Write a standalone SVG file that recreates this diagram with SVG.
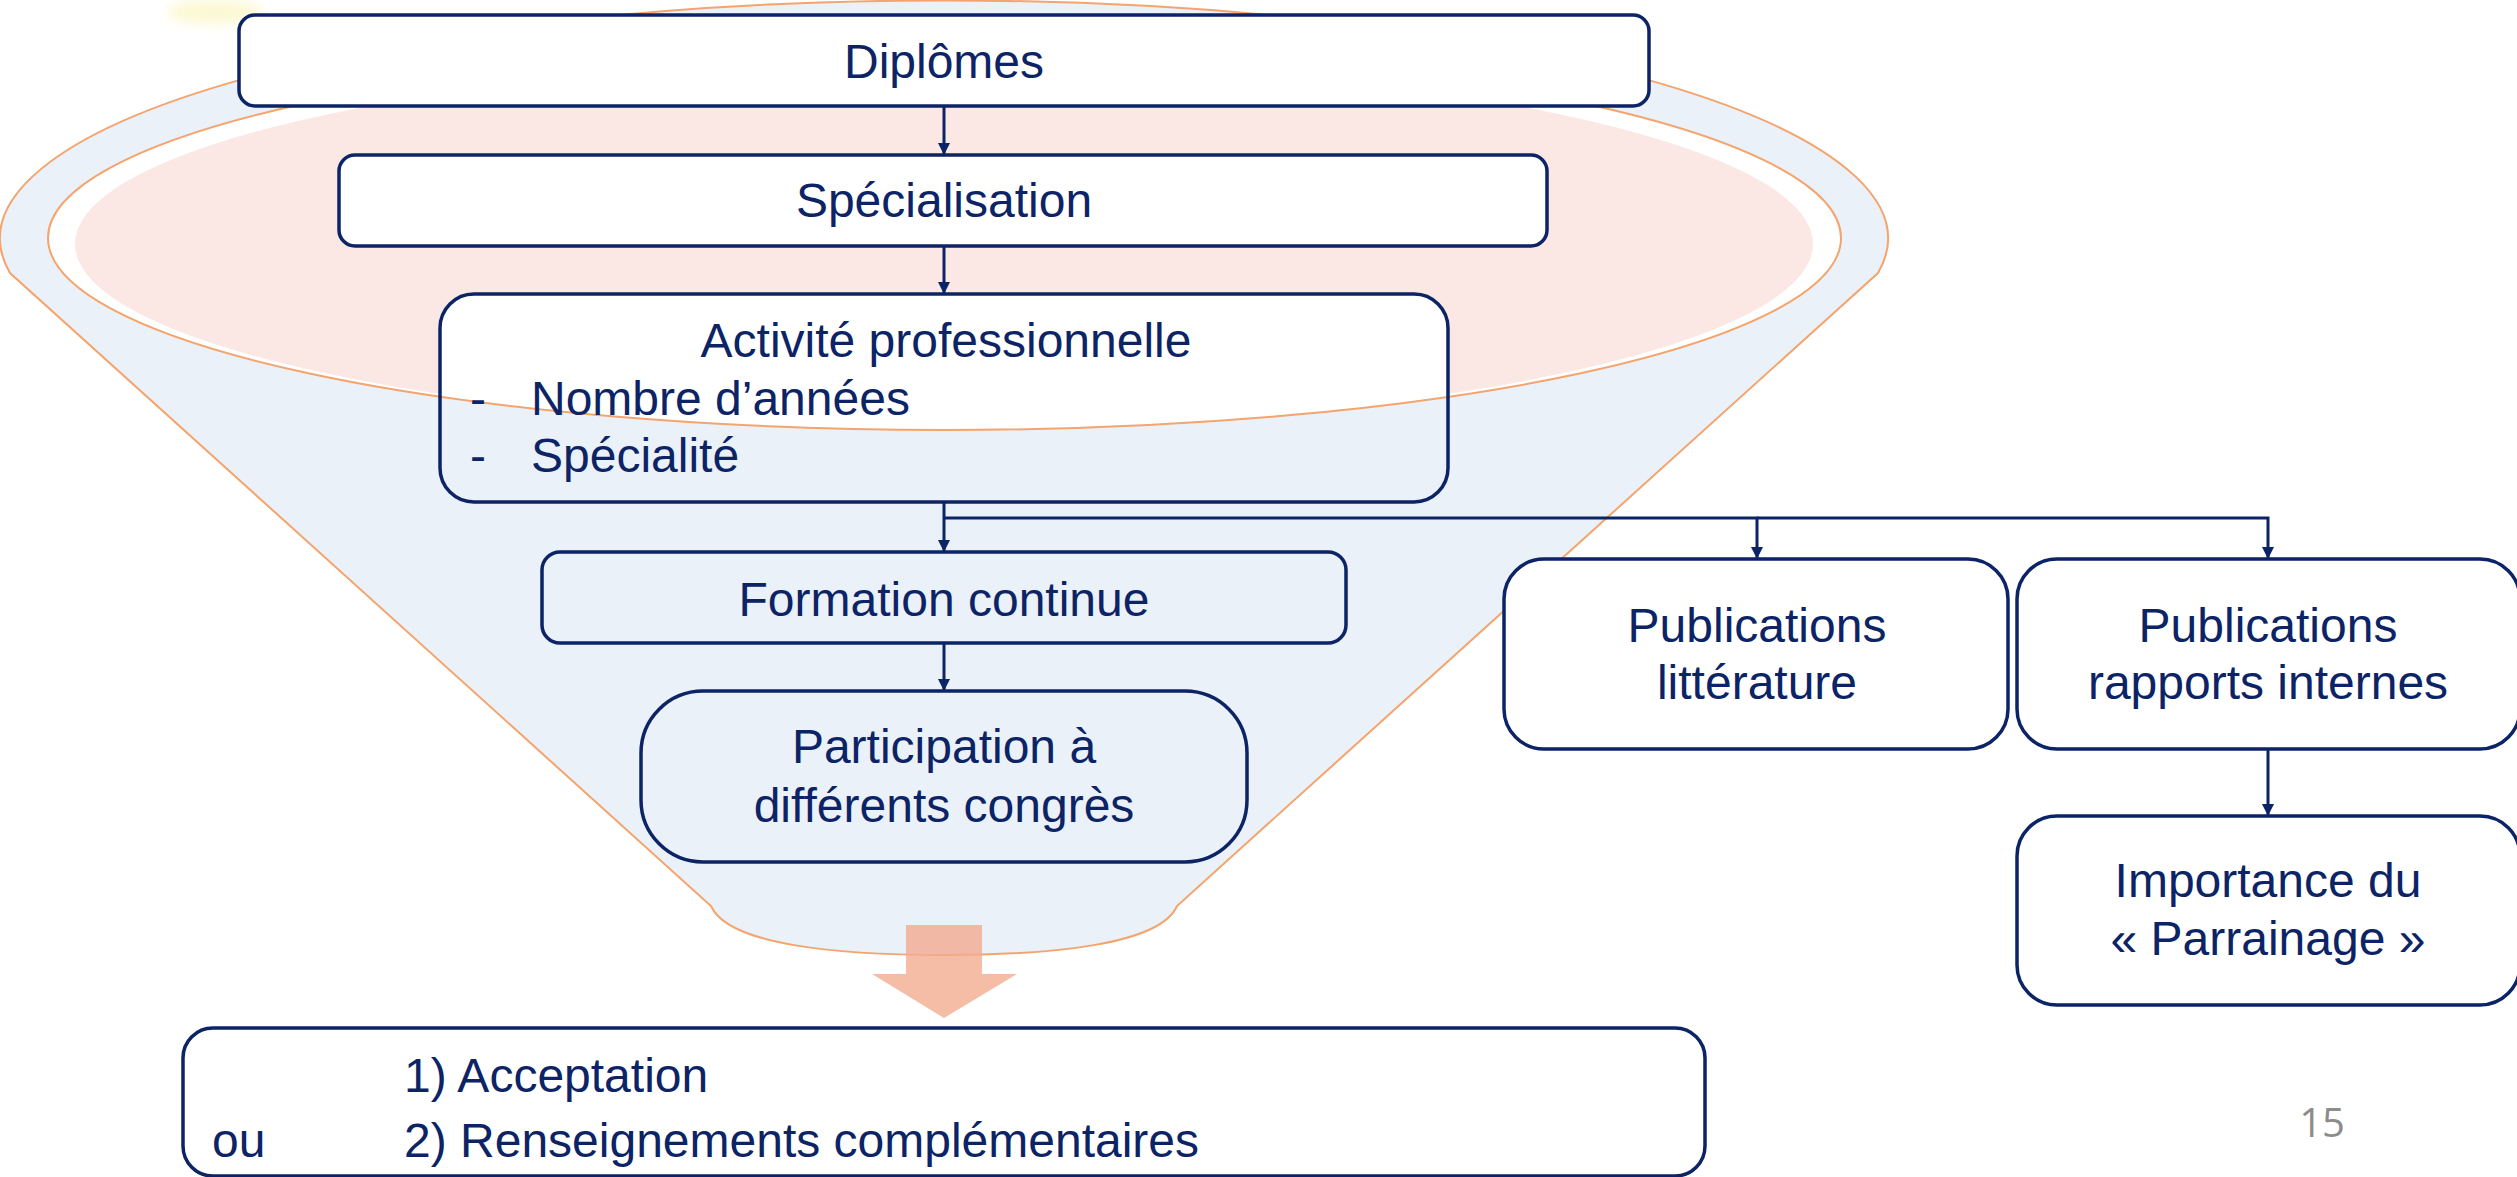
<svg xmlns="http://www.w3.org/2000/svg" width="2517" height="1177" viewBox="0 0 2517 1177">
<style>
.box{stroke:#0c2466;stroke-width:3.5;}
.t{font-family:"Liberation Sans",Arial,sans-serif;font-size:48px;fill:#0c2466;}
.c{text-anchor:middle;}
.conn{stroke:#0c2466;stroke-width:3;fill:none;}
.orange{stroke:#f4a46c;stroke-width:2;}
</style>
<defs>
<marker id="arr" viewBox="0 0 12 18" refX="12" refY="6" markerWidth="12" markerHeight="18" markerUnits="userSpaceOnUse" orient="auto">
<path d="M0,0 L18,6 L0,12 Z" fill="#0c2466" transform="scale(0.67,1)"/>
</marker>
<filter id="blur" x="-50%" y="-50%" width="200%" height="200%"><feGaussianBlur stdDeviation="6"/></filter>
<clipPath id="actClip"><rect x="440" y="294" width="1008" height="208" rx="34"/></clipPath>
</defs>
<rect width="2517" height="1177" fill="#ffffff"/>
<g id="background">
<ellipse cx="215" cy="12" rx="48" ry="12" fill="#fbf7c8" opacity="0.8" filter="url(#blur)"/>
<path d="M10,273 A944,238 0 1 1 1878,273 L1177,906 C1160,945 1050,955 944,955 C838,955 728,945 711,906 Z" fill="#ebf1f9" class="orange"/>
<ellipse cx="944.5" cy="238" rx="896.5" ry="192" fill="#ffffff" class="orange"/>
<ellipse cx="944" cy="244" rx="869" ry="184" fill="#fbe8e5"/>
</g>
<g id="n-diplomes">
<rect class="box" x="239" y="15" width="1410" height="91" rx="16" fill="#ffffff"/>
<text class="t c" x="944" y="78">Diplômes</text>
</g>
<g id="n-specialisation">
<rect class="box" x="339" y="155" width="1208" height="91" rx="16" fill="#ffffff"/>
<text class="t c" x="944" y="217">Spécialisation</text>
</g>
<g id="n-activite">
<g clip-path="url(#actClip)">
<rect x="440" y="294" width="1008" height="208" fill="#ebf1f9"/>
<ellipse cx="944.5" cy="238" rx="896.5" ry="192" fill="#ffffff" class="orange"/>
</g>
<rect class="box" x="440" y="294" width="1008" height="208" rx="34" fill="none"/>
<text class="t c" x="946" y="357">Activité professionnelle</text>
<text class="t" x="470" y="415">-</text>
<text class="t" x="531" y="415">Nombre d’années</text>
<text class="t" x="470" y="472">-</text>
<text class="t" x="531" y="472">Spécialité</text>
</g>
<g id="n-formation">
<rect class="box" x="542" y="552" width="804" height="91" rx="18" fill="none"/>
<text class="t c" x="944" y="616">Formation continue</text>
</g>
<g id="n-participation">
<rect class="box" x="641" y="691" width="606" height="171" rx="62" fill="none"/>
<text class="t c" x="944" y="763">Participation à</text>
<text class="t c" x="944" y="822">différents congrès</text>
</g>
<g id="n-pub-litt">
<rect class="box" x="1504" y="559" width="504" height="190" rx="40" fill="#ffffff"/>
<text class="t c" x="1757" y="642">Publications</text>
<text class="t c" x="1757" y="699">littérature</text>
</g>
<g id="n-pub-rapports">
<rect class="box" x="2017" y="559" width="503" height="190" rx="40" fill="#ffffff"/>
<text class="t c" x="2268" y="642">Publications</text>
<text class="t c" x="2268" y="699">rapports internes</text>
</g>
<g id="n-importance">
<rect class="box" x="2017" y="816" width="503" height="189" rx="40" fill="#ffffff"/>
<text class="t c" x="2268" y="897">Importance du</text>
<text class="t c" x="2268" y="955">« Parrainage »</text>
</g>
<g id="n-result">
<rect class="box" x="183" y="1028" width="1522" height="148" rx="30" fill="#ffffff"/>
<text class="t" x="404" y="1092">1) Acceptation</text>
<text class="t" x="212" y="1157">ou</text>
<text class="t" x="404" y="1157">2) Renseignements complémentaires</text>
</g>
<g id="big-arrow">
<path d="M906,925 L982,925 L982,974 L1017,974 L944,1018 L872,974 L906,974 Z" fill="#f2ab90" opacity="0.8"/>
</g>
<g id="connectors">
<line class="conn" x1="944" y1="106" x2="944" y2="155" marker-end="url(#arr)"/>
<line class="conn" x1="944" y1="246" x2="944" y2="294" marker-end="url(#arr)"/>
<polyline class="conn" points="944,502 944,552" marker-end="url(#arr)"/>
<polyline class="conn" points="944,518 1757,518 1757,559" marker-end="url(#arr)"/>
<polyline class="conn" points="1757,518 2268,518 2268,559" marker-end="url(#arr)"/>
<line class="conn" x1="944" y1="643" x2="944" y2="691" marker-end="url(#arr)"/>
<line class="conn" x1="2268" y1="749" x2="2268" y2="816" marker-end="url(#arr)"/>
</g>
<text x="2322" y="1137" text-anchor="middle" style="font-family:'Open Sans','Liberation Sans',sans-serif;font-size:40px;fill:#8c8c8c">15</text>
</svg>
